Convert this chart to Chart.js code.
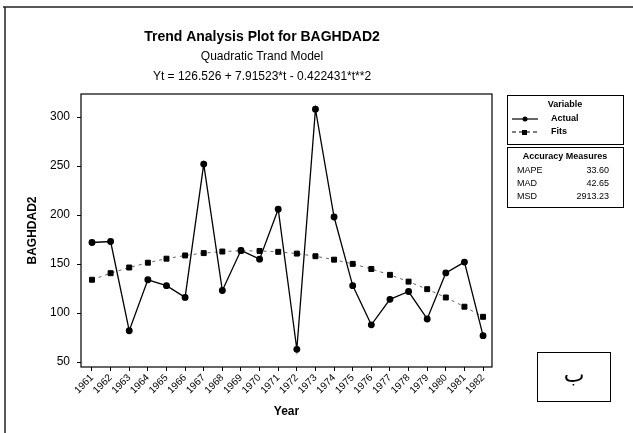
<!DOCTYPE html>
<html>
<head>
<meta charset="utf-8">
<script src="https://cdn.jsdelivr.net/npm/chart.js@4"></script>
<style>
  body { margin: 0; background: #fff; }
  canvas { display: block; }
</style>
</head>
<body>
<canvas id="trend" width="633" height="433"></canvas>
<script>
const years = [1961, 1962, 1963, 1964, 1965, 1966, 1967, 1968, 1969, 1970, 1971,
               1972, 1973, 1974, 1975, 1976, 1977, 1978, 1979, 1980, 1981, 1982];
const actual = [172, 173, 82, 134, 128, 116, 252, 123, 164, 155, 206,
                63, 308, 198, 128, 88, 114, 122, 94, 141, 152, 77];
const fits = [134.0, 140.7, 146.5, 151.4, 155.5, 158.8, 161.2, 162.8, 163.6, 163.4, 162.5,
              160.7, 158.0, 154.5, 150.2, 145.0, 139.0, 132.1, 124.4, 115.9, 106.5, 96.2];
const yTicks = [50, 100, 150, 200, 250, 300];
const accuracyLabels = ['MAPE', 'MAD', 'MSD'];
const accuracyValues = ['33.60', '42.65', '2913.23'];

const font = '"Liberation Sans", Arial, sans-serif';

// titles, frame, legend boxes
const decor = {
  id: 'decor',
  beforeDatasetsDraw(chart) {
    const { ctx, chartArea: a } = chart;
    ctx.save();
    ctx.strokeStyle = '#000';
    ctx.lineWidth = 1.2;
    ctx.strokeRect(a.left, a.top, a.right - a.left, a.bottom - a.top);
    ctx.restore();
  },
  afterDraw(chart) {
    const ctx = chart.ctx;
    ctx.save();
    // outer frame (top + left)
    ctx.strokeStyle = '#222';
    ctx.lineWidth = 1.5;
    ctx.beginPath();
    ctx.moveTo(3, 7); ctx.lineTo(633, 7);
    ctx.moveTo(5, 7); ctx.lineTo(5, 433);
    ctx.stroke();

    ctx.fillStyle = '#000';
    ctx.textAlign = 'center';
    ctx.textBaseline = 'middle';
    ctx.font = 'bold 14px ' + font;
    ctx.fillText('Trend Analysis Plot for BAGHDAD2', 262, 37);
    ctx.font = '12px ' + font;
    ctx.fillText('Quadratic Trand Model', 262, 57);
    ctx.fillText('Yt = 126.526 + 7.91523*t - 0.422431*t**2', 262, 77);

    // legend box
    ctx.lineWidth = 1;
    ctx.strokeStyle = '#000';
    ctx.strokeRect(507.5, 95.5, 116, 49);
    ctx.font = 'bold 9px ' + font;
    ctx.fillText('Variable', 565, 105);
    ctx.textAlign = 'left';
    ctx.fillText('Actual', 551, 119);
    ctx.fillText('Fits', 551, 132);
    ctx.lineWidth = 1.2;
    ctx.beginPath();
    ctx.moveTo(512, 119); ctx.lineTo(538, 119);
    ctx.stroke();
    ctx.beginPath();
    ctx.arc(525, 119, 2.5, 0, Math.PI * 2);
    ctx.fill();
    ctx.setLineDash([4, 3]);
    ctx.beginPath();
    ctx.moveTo(512, 132); ctx.lineTo(540, 132);
    ctx.stroke();
    ctx.setLineDash([]);
    ctx.fillRect(522, 130, 5, 5);

    // accuracy box
    ctx.lineWidth = 1;
    ctx.strokeRect(507.5, 147.5, 116, 60);
    ctx.textAlign = 'center';
    ctx.fillText('Accuracy Measures', 565, 157);
    ctx.font = '9px ' + font;
    accuracyLabels.forEach((lab, i) => {
      const y = 171 + i * 13;
      ctx.textAlign = 'left';
      ctx.fillText(lab, 517, y);
      ctx.textAlign = 'right';
      ctx.fillText(accuracyValues[i], 609, y);
    });

    // figure label box
    ctx.strokeRect(537.5, 352.5, 73, 49);
    ctx.textAlign = 'center';
    ctx.font = '22px "DejaVu Sans", sans-serif';
    ctx.fillText('ب', 574, 376);
    ctx.restore();
  }
};

new Chart(document.getElementById('trend'), {
  type: 'line',
  data: {
    datasets: [{
      label: 'Actual',
      data: years.map((yr, i) => ({ x: yr, y: actual[i] })),
      borderColor: '#000',
      backgroundColor: '#000',
      borderWidth: 1.3,
      pointRadius: 2.8,
      pointStyle: 'circle',
      tension: 0
    }, {
      label: 'Fits',
      data: years.map((yr, i) => ({ x: yr, y: fits[i] })),
      borderColor: '#666',
      backgroundColor: '#000',
      borderWidth: 1,
      borderDash: [3, 4],
      pointRadius: 3.5,
      pointStyle: 'rect',
      pointBorderColor: '#000',
      tension: 0
    }]
  },
  options: {
    responsive: false,
    animation: false,
    layout: { padding: { left: 0, top: 94, right: 141, bottom: 0 } },
    plugins: {
      legend: { display: false },
      tooltip: { enabled: false }
    },
    scales: {
      x: {
        type: 'linear',
        min: 1960.41,
        max: 1982.48,
        afterBuildTicks: s => { s.ticks = years.map(v => ({ value: v })); },
        afterFit: s => { s.height = 66; },
        border: { display: false },
        grid: { drawOnChartArea: false, tickLength: 4, color: '#000' },
        ticks: {
          minRotation: 45,
          maxRotation: 45,
          autoSkip: false,
          padding: 1,
          color: '#000',
          font: { family: font, size: 10 },
          callback: v => String(v)
        },
        title: {
          display: true,
          text: 'Year',
          color: '#000',
          font: { family: font, size: 12, weight: 'bold' },
          padding: { top: 14, bottom: 14 }
        }
      },
      y: {
        min: 45,
        max: 323.5,
        afterBuildTicks: s => { s.ticks = yTicks.map(v => ({ value: v })); },
        afterFit: s => { s.width = 81; },
        border: { display: false },
        grid: { drawOnChartArea: false, tickLength: 4, color: '#000' },
        ticks: {
          padding: 7,
          color: '#000',
          font: { family: font, size: 12 }
        },
        title: {
          display: true,
          text: 'BAGHDAD2',
          color: '#000',
          font: { family: font, size: 12, weight: 'bold' },
          padding: { top: 25, bottom: 25 }
        }
      }
    }
  },
  plugins: [decor]
});
</script>
</body>
</html>
